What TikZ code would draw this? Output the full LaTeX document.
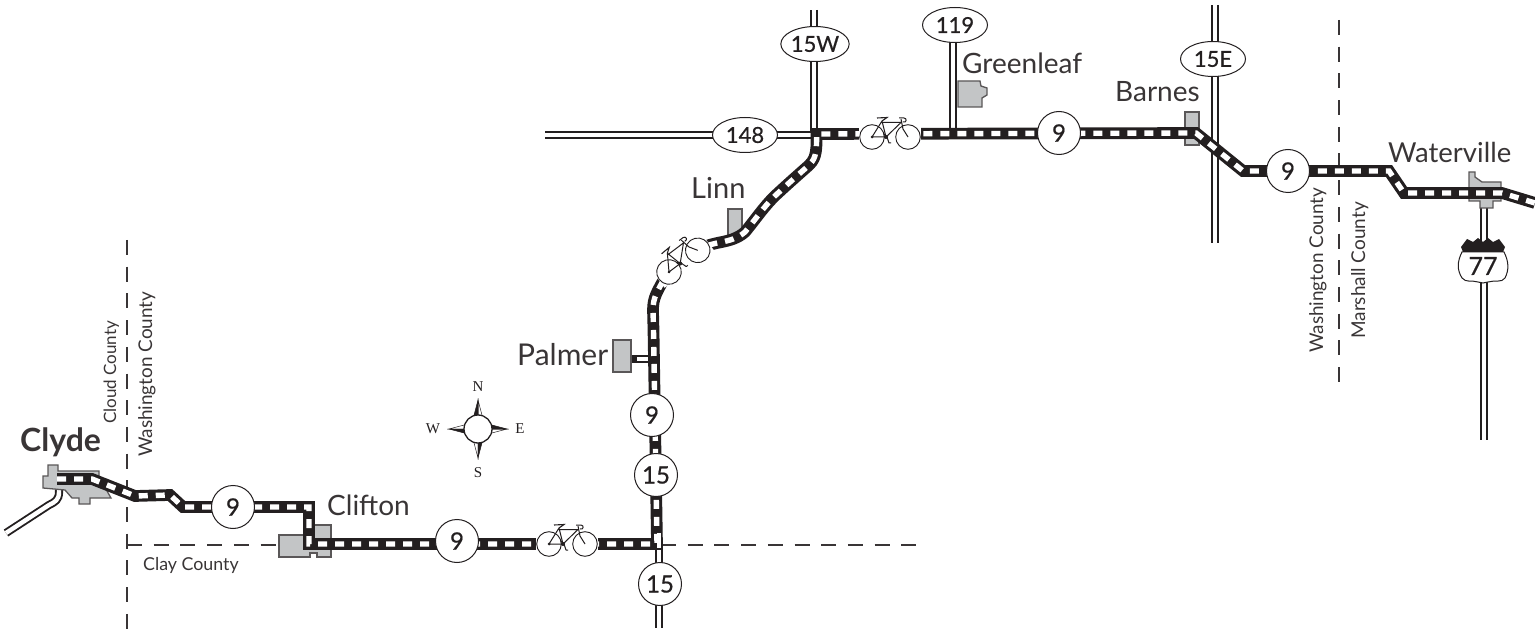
\documentclass[tikz,border=0pt]{standalone}
\usepackage{fontspec}
\usetikzlibrary{shapes.geometric}
\setmainfont{Lato}
\newfontfamily\compassfont{Liberation Serif}
\newfontfamily\semib[FakeBold=0.6]{Lato}
\definecolor{ink}{HTML}{231F20}
\definecolor{town}{HTML}{C3C5C6}
\newcommand\fs[1]{\fontsize{#1}{#1}\selectfont}
\tikzset{
  x=1pt,y=-1pt,
  roadblack/.style={draw=ink,line width=11.7pt,miter limit=4},
  roadwhite/.style={draw=white,line width=5.4pt,dash pattern=on 9pt off 8pt},
  hwyblack/.style={draw=ink,line width=8.2pt},
  hwywhite/.style={draw=white,line width=4.4pt},
  townshape/.style={draw=ink!75,fill=town,line width=1.3pt},
  county/.style={draw=ink!90,line width=1.5pt,dash pattern=on 15pt off 11.7pt},
  routecircle/.style={circle,draw=ink,fill=white,line width=1pt,minimum size=43pt,inner sep=0pt,font=\semib\fs{24},text=ink},
  routeoval/.style={ellipse,draw=ink,fill=white,line width=1pt,minimum width=65pt,minimum height=35pt,inner sep=0pt,font=\semib\fs{22},text=ink},
  place/.style={text=ink!90,inner sep=0pt,anchor=base west},
  countylabel/.style={text=ink!90,inner sep=0pt,anchor=base west},
  compasslabel/.style={font=\compassfont\fs{15},text=ink,inner sep=0pt},
  cyclepic/.pic={
    \fill[white] (-13,-10) rectangle (49,10);
    \draw[ink,line width=.9pt] (0,0) circle (12.3) (36,0) circle (12.3);
    \draw[ink,line width=1pt,line join=round]
      (0,0) -- (14,0) -- (10,-16) -- (0,0)
      (14,0) -- (29,-14.5) -- (10.5,-14.5)
      (29,-18) -- (31,-8) -- (36,0)
      (14,0) ++(1,0) -- (17,6) -- (19,6) (14,0) -- (12,-3);
    \draw[ink,line width=1.1pt] (5,-19) -- (15,-19.5) -- (10,-16);
    \draw[ink,line width=1pt] (27,-19) -- (32,-19) .. controls (35,-19) and (35,-14) .. (31,-15);
    \fill[ink] (0,0) circle (1.5) (14,0) circle (2);
  }
}
\begin{document}
\begin{tikzpicture}
\useasboundingbox (0,0) rectangle (1535,631);
% county lines
\draw[county] (127,240) -- (127,630);
\draw[county] (127,545) -- (918,545);
\draw[county] (1339,20) -- (1339,385);
% highways
\foreach \p in {hwyblack,hwywhite}{
  \path[\p] (814,10) -- (814,133);
  \path[\p] (953,35) -- (953,133);
  \path[\p] (545,135) -- (814,135);
  \path[\p] (1215,5) -- (1215,243);
  \path[\p] (659,538) -- (659,628);
  \path[\p] (1484,205) -- (1484,440);
  \path[\p] (59,482) -- (59,492) .. controls (59,500) and (55,502) .. (49,505) -- (6,533);
}
\path[hwyblack] (630,359) -- (652,359);
\path[hwywhite] (637,359) -- (652,359);
% towns
\path[townshape] (48,465) -- (58,465) -- (58,471) -- (99,471) -- (99,477) -- (111,498) -- (90,498) -- (90,504) -- (79,504) -- (79,498) -- (72,498) -- (65,490) -- (43,488) -- (43,476) -- (48,476) -- cycle;
\path[townshape] (279,535) -- (305,535) -- (305,525) -- (331,525) -- (331,557) -- (317,557) -- (317,553) -- (310,553) -- (310,557) -- (279,557) -- cycle;
\path[townshape] (613,340) rectangle (631,372);
\path[townshape] (728,209) rectangle (742,236);
\path[townshape] (958,81) -- (980,81) -- (981,86) -- (987,88) -- (987,95) -- (982,98) -- (982,107) -- (958,107) -- cycle;
\path[townshape] (1185,112) rectangle (1199,145);
\path[townshape] (1469,172) -- (1475,172) -- (1475,177) -- (1482,182) -- (1501,182) -- (1501,201) -- (1493,201) -- (1493,208) -- (1480,208) -- (1480,201) -- (1469,201) -- cycle;
% bicycle road
\def\roadpath{(57,479) -- (92,479) -- (135,496) -- (170,495) -- (183,507) -- (309,507) -- (309,544) -- (657,544) -- (653.5,330) -- (653,310) .. controls (653,297) and (657,292) .. (668,272) -- (700,250) .. controls (712,240) and (730,245) .. (745,232) .. controls (755,220) and (765,205) .. (777,194) .. controls (790,182) and (798,175) .. (807,167) .. controls (815,160) and (817,155) .. (816.5,134) -- (1196,133) -- (1243,171) -- (1389,171) -- (1404,193) -- (1502,193) -- (1535,203)}
\path[roadblack] \roadpath;
\path[roadwhite] \roadpath;
% highway white centre running into the road at the junction
\draw[hwywhite,line width=3.5pt] (659,533) -- (659,548);
% bicycles
\pic at (549,544) {cyclepic};
\pic at (872,137) {cyclepic};
\pic[rotate=37] at (669,272) {cyclepic};
% route markers
\node[routecircle] (r9a) at (233,507) {9};
\node[routecircle] (r9b) at (457,541) {9};
\node[routecircle] (r9c) at (652,415) {9};
\node[routecircle] (r15a) at (656,475) {15};
\node[routecircle] (r15b) at (660,584) {15};
\node[routecircle] (r9d) at (1059,133) {9};
\node[routecircle] (r9e) at (1288,171) {9};
\node[routeoval] (r15w) at (815,44) {15W};
\node[routeoval] (r119) at (955,25) {119};
\node[routeoval] (r148) at (745,135) {148};
\node[routeoval] (r15e) at (1213,59) {15E};
% US shield
\filldraw[draw=ink,fill=white,line width=1pt] (1462,252) .. controls (1457,262) and (1457,270) .. (1462,278) .. controls (1466,283) and (1472,280) .. (1478,282) -- (1483,283) -- (1488,282) .. controls (1494,280) and (1502,283) .. (1505,278) .. controls (1509,270) and (1509,262) .. (1504,252) -- cycle;
\fill[ink] (1461,247) -- (1467,239) -- (1473,242) -- (1478,238) -- (1483,242) -- (1488,238) -- (1493,242) -- (1499,239) -- (1505,247) -- (1503,252) -- (1463,252) -- cycle;
\node[font=\semib\fs{25},text=ink,inner sep=0pt] (r77) at (1483,266) {77};
% compass
\foreach \a in {0,90,180,270}{
  \begin{scope}[shift={(478,429)},rotate=\a]
    \filldraw[draw=ink,fill=white,line width=.5pt] (0,-29) -- (4.5,-12) -- (0,-14) -- cycle;
    \filldraw[draw=ink,fill=ink,line width=.5pt] (0,-29) -- (-4.5,-12) -- (0,-14) -- cycle;
  \end{scope}
}
\node[circle,draw=ink,fill=white,line width=1.3pt,minimum size=28pt,inner sep=0pt] (compass) at (478,429) {};
\node[compasslabel] (cn) at (478,387) {N};
\node[compasslabel] (cs) at (478,473) {S};
\node[compasslabel] (cw) at (433,429) {W};
\node[compasslabel] (ce) at (520,429) {E};
% labels
\node[place,font=\fs{32}\bfseries] (clyde) at (20,451) {Clyde};
\node[place,font=\fs{28}] (clifton) at (327,515) {Clifton};
\node[place,font=\fs{30}] (palmer) at (517,365) {Palmer};
\node[place,font=\fs{29}] (linn) at (691,199) {Linn};
\node[place,font=\fs{28}] (greenleaf) at (962,74) {Greenleaf};
\node[place,font=\fs{28}] (barnes) at (1115,102) {Barnes};
\node[place,font=\fs{27.5}] (waterville) at (1388,163) {Waterville};
\node[countylabel,font=\fs{17.8}] (clay) at (143,570) {Clay County};
\node[countylabel,font=\fs{17},rotate=90] (cloud) at (116,424) {Cloud County};
\node[countylabel,font=\fs{18.9},rotate=90] (washl) at (152,457) {Washington County};
\node[countylabel,font=\fs{18.9},rotate=90] (washr) at (1323,353) {Washington County};
\node[countylabel,font=\fs{19},rotate=90] (marsh) at (1365,339) {Marshall County};
\end{tikzpicture}
\end{document}
